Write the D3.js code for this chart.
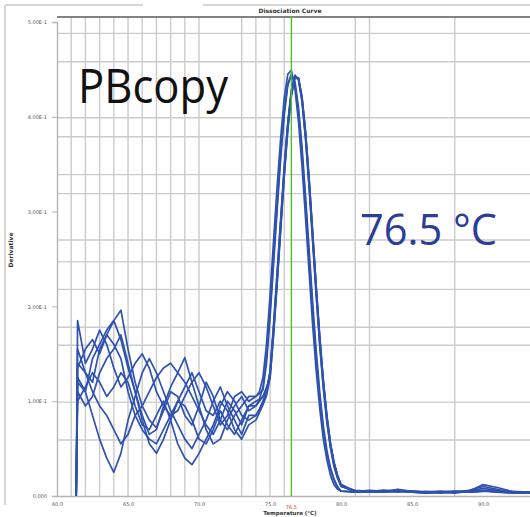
<!DOCTYPE html>
<html><head><meta charset="utf-8">
<script src="https://cdn.jsdelivr.net/npm/d3@7"></script>
<style>html,body{margin:0;padding:0;background:#fff;}svg{display:block;}</style>
</head><body>
<svg id="chart" width="530" height="517"></svg>
<script>
// ---------- data ----------
const title = "Dissociation Curve";
const xTitle = "Temperature (°C)";
const yTitle = "Derivative";
const xTickValues = [60, 65, 70, 75, 80, 85, 90];
const xTickLabels = ["60.0", "65.0", "70.0", "75.0", "80.0", "85.0", "90.0"];
const yTickValues = [0, 1, 2, 3, 4, 5];
const yTickLabels = ["0.000", "1.00E-1", "2.00E-1", "3.00E-1", "4.00E-1", "5.00E-1"];
const xGridValues = [61, 62, 63, 64, 65, 66, 67, 68, 69, 70, 73, 74, 75, 76, 81, 82, 88];
const yGridValues = [0.59, 0.99, 1.59, 1.78, 2.18, 2.47, 2.70, 3.19, 3.39, 3.79, 3.99, 4.58, 4.88];
const markerTemp = 76.5;
const annotationSample = "PBcopy";
const annotationTm = "76.5 °C";

const temps = [61.35, 61.45, 62, 62.5, 63, 63.5, 64, 64.5, 65, 65.5, 66, 66.5, 67, 67.5, 68, 68.5,
  69, 69.5, 70, 70.5, 71, 71.5, 72, 72.5, 73, 73.5,
  74, 74.25, 74.5, 74.75, 75, 75.25, 75.5, 75.75, 76, 76.25, 76.5, 76.75, 77, 77.25, 77.5, 77.75,
  78, 78.25, 78.5, 78.75, 79, 79.25, 79.5, 79.75, 80,
  81, 82, 83, 84, 85, 86, 87, 88, 89, 90, 91, 92, 93.3];

const well1 = [0, 1.25, 1.10, 1.45, 1.60, 1.75, 1.85, 1.96, 1.55, 1.20, 0.95, 0.80, 0.72, 0.90, 1.10, 1.05, 0.85, 0.75, 0.95, 1.20, 1.05, 0.80, 0.70, 0.85, 0.95, 1.05,
  1.05, 1.10, 1.25, 1.60, 2.12, 2.70, 3.27, 3.78, 4.20, 4.45, 4.49, 4.30, 3.95, 3.48, 2.93, 2.36, 1.80, 1.32, 0.92, 0.60, 0.38, 0.22, 0.12, 0.07, 0.05,
  0.04, 0.05, 0.04, 0.06, 0.04, 0.03, 0.04, 0.05, 0.04, 0.05, 0.04, 0.03, 0.03];
const well2 = [0, 1.55, 1.30, 1.20, 1.55, 1.70, 1.85, 1.65, 1.35, 1.10, 0.85, 0.65, 0.70, 0.95, 1.15, 1.30, 1.20, 1.05, 0.90, 0.75, 0.65, 0.80, 1.00, 0.90, 0.75, 0.95,
  0.95, 1.02, 1.15, 1.46, 1.96, 2.52, 3.09, 3.62, 4.06, 4.35, 4.45, 4.35, 4.06, 3.62, 3.09, 2.52, 1.96, 1.46, 1.03, 0.70, 0.45, 0.28, 0.17, 0.09, 0.05,
  0.05, 0.04, 0.05, 0.04, 0.05, 0.04, 0.03, 0.04, 0.06, 0.10, 0.07, 0.04, 0.03];
const well3 = [0, 1.85, 1.40, 1.55, 1.75, 1.60, 1.35, 1.15, 1.25, 1.40, 1.50, 1.35, 1.10, 0.95, 0.85, 0.90, 1.05, 1.20, 1.30, 1.15, 0.95, 0.75, 0.85, 1.05, 1.10, 1.00,
  1.05, 1.08, 1.12, 1.40, 1.88, 2.45, 3.02, 3.56, 4.02, 4.33, 4.44, 4.37, 4.10, 3.68, 3.16, 2.60, 2.04, 1.53, 1.09, 0.74, 0.48, 0.30, 0.18, 0.10, 0.05,
  0.04, 0.04, 0.05, 0.05, 0.04, 0.03, 0.04, 0.03, 0.05, 0.12, 0.09, 0.05, 0.04];
const well4 = [0, 1.20, 1.10, 0.85, 0.60, 0.40, 0.25, 0.45, 0.80, 1.05, 1.30, 1.45, 1.30, 1.10, 0.90, 0.75, 0.60, 0.50, 0.65, 0.80, 1.00, 1.15, 0.95, 0.80, 0.65, 0.85,
  0.85, 0.92, 1.00, 1.12, 1.30, 1.78, 2.33, 2.90, 3.46, 3.93, 4.27, 4.43, 4.40, 4.17, 3.78, 3.27, 2.70, 2.13, 1.60, 1.15, 0.79, 0.52, 0.32, 0.19, 0.10,
  0.06, 0.05, 0.06, 0.05, 0.05, 0.04, 0.05, 0.04, 0.04, 0.05, 0.05, 0.04, 0.03];
const well5 = [0, 1.40, 1.30, 1.10, 0.95, 0.85, 0.70, 0.55, 0.65, 0.85, 0.95, 1.10, 1.25, 1.35, 1.40, 1.30, 1.46, 1.20, 0.95, 0.70, 0.55, 0.60, 0.80, 0.95, 1.05, 0.90,
  0.95, 1.00, 1.05, 1.15, 1.25, 1.70, 2.24, 2.81, 3.37, 3.86, 4.22, 4.41, 4.41, 4.21, 3.84, 3.35, 2.78, 2.21, 1.68, 1.22, 0.85, 0.56, 0.36, 0.22, 0.12,
  0.05, 0.06, 0.05, 0.07, 0.05, 0.04, 0.04, 0.05, 0.05, 0.06, 0.04, 0.05, 0.03];
const well6 = [0, 1.00, 1.15, 1.30, 1.20, 1.05, 1.15, 1.30, 1.20, 0.95, 0.75, 0.70, 0.85, 1.00, 0.80, 0.55, 0.40, 0.33, 0.45, 0.60, 0.75, 0.95, 1.10, 1.00, 0.85, 0.80,
  0.85, 0.90, 0.98, 1.08, 1.32, 1.82, 2.37, 2.93, 3.48, 3.94, 4.28, 4.44, 4.39, 4.16, 3.76, 3.25, 2.68, 2.11, 1.58, 1.14, 0.78, 0.51, 0.31, 0.19, 0.10,
  0.05, 0.05, 0.04, 0.05, 0.04, 0.05, 0.04, 0.04, 0.05, 0.08, 0.06, 0.04, 0.04];
const well7 = [0, 1.35, 1.55, 1.65, 1.50, 1.70, 1.60, 1.45, 1.10, 0.85, 0.70, 0.60, 0.55, 0.70, 0.85, 1.00, 1.15, 1.30, 1.10, 0.90, 0.85, 1.00, 0.90, 0.70, 0.60, 0.75,
  0.80, 0.88, 0.96, 1.06, 1.24, 1.72, 2.26, 2.83, 3.39, 3.88, 4.23, 4.41, 4.40, 4.20, 3.83, 3.34, 2.77, 2.20, 1.67, 1.21, 0.84, 0.55, 0.35, 0.21, 0.11,
  0.04, 0.05, 0.06, 0.05, 0.05, 0.04, 0.05, 0.04, 0.04, 0.05, 0.05, 0.04, 0.03];
const well8 = [0, 1.10, 0.95, 1.05, 1.30, 1.45, 1.55, 1.70, 1.40, 1.10, 0.80, 0.55, 0.45, 0.60, 0.80, 1.00, 0.95, 0.80, 0.60, 0.55, 0.70, 0.90, 0.75, 0.65, 0.80, 0.95,
  1.00, 1.02, 1.05, 1.12, 1.30, 1.76, 2.30, 2.87, 3.43, 3.91, 4.26, 4.42, 4.41, 4.20, 3.82, 3.32, 2.75, 2.18, 1.65, 1.20, 0.83, 0.55, 0.35, 0.21, 0.12,
  0.05, 0.04, 0.05, 0.06, 0.05, 0.04, 0.04, 0.05, 0.04, 0.06, 0.05, 0.04, 0.04];
const wells = [well1, well2, well3, well4, well5, well6, well7, well8];

// ---------- drawing ----------
const svg = d3.select("#chart");
const pL = 57, pR = 530, pT = 17, pB = 496;
const x = d3.scaleLinear().domain([60, 93.3]).range([pL, pR]);
const y = d3.scaleLinear().domain([0, 5]).range([pB, 22]);

// outer frame
const frame = svg.append("g").attr("stroke", "#d6d6d6").attr("stroke-width", 2).attr("fill", "none");
frame.append("line").attr("x1", 5).attr("x2", 5).attr("y1", 5).attr("y2", 505);
frame.append("line").attr("x1", 5).attr("x2", 143).attr("y1", 5).attr("y2", 5);
frame.append("line").attr("x1", 203).attr("x2", 530).attr("y1", 5).attr("y2", 5);

// grid
const grid = svg.append("g").attr("stroke", "#cbcbcb").attr("stroke-width", 1.4);
grid.selectAll(".vg").data(xGridValues).join("line").attr("class", "vg")
  .attr("x1", d => x(d)).attr("x2", d => x(d)).attr("y1", pT).attr("y2", pB);
grid.selectAll(".hg").data(yGridValues).join("line").attr("class", "hg")
  .attr("x1", pL).attr("x2", pR).attr("y1", d => y(d)).attr("y2", d => y(d));

// axes
const yAxis = d3.axisLeft(y).tickValues(yTickValues).tickSize(5).tickFormat((d, i) => yTickLabels[i]);
const gy = svg.append("g").attr("transform", `translate(${pL},0)`).call(yAxis);
gy.select(".domain").attr("stroke", "#b5b5b5").attr("stroke-width", 1.4);
gy.selectAll(".tick line").attr("stroke", "#b5b5b5");
gy.selectAll(".tick text").attr("font-family", "DejaVu Sans").attr("font-size", 5).attr("fill", "#555").attr("dx", -2);

const xAxis = d3.axisBottom(x).tickValues(xTickValues).tickSize(0).tickFormat((d, i) => xTickLabels[i]);
const gx = svg.append("g").attr("transform", `translate(0,${pB})`).call(xAxis);
gx.select(".domain").attr("stroke", "#b5b5b5").attr("stroke-width", 1.4);
gx.selectAll(".tick text").attr("font-family", "DejaVu Sans").attr("font-size", 5).attr("fill", "#555").attr("dy", 7);

// top border
svg.append("line").attr("x1", pL).attr("x2", pR).attr("y1", pT).attr("y2", pT)
  .attr("stroke", "#5a5a5a").attr("stroke-width", 1.5);

// titles
svg.append("text").attr("x", 290).attr("y", 13).attr("text-anchor", "middle")
  .attr("font-family", "DejaVu Sans").attr("font-weight", "bold").attr("font-size", 6).attr("fill", "#333").text(title);
svg.append("text").attr("x", 290).attr("y", 515).attr("text-anchor", "middle")
  .attr("font-family", "DejaVu Sans").attr("font-weight", "bold").attr("font-size", 5.5).attr("fill", "#333").text(xTitle);
svg.append("text").attr("transform", "translate(13,250) rotate(-90)").attr("text-anchor", "middle")
  .attr("font-family", "DejaVu Sans").attr("font-weight", "bold").attr("font-size", 6).attr("fill", "#333").text(yTitle);
svg.append("text").attr("x", x(markerTemp)).attr("y", 509).attr("text-anchor", "middle")
  .attr("font-family", "DejaVu Sans").attr("font-size", 5).attr("fill", "#e03030").text(markerTemp.toFixed(1));

// curves
svg.append("clipPath").attr("id", "plotclip").append("rect")
  .attr("x", pL).attr("y", pT).attr("width", pR - pL).attr("height", pB - pT + 1);
const line = d3.line().x((d, i) => x(temps[i])).y(d => y(d));
svg.append("g").attr("clip-path", "url(#plotclip)")
  .selectAll("path").data(wells).join("path")
  .attr("d", line).attr("fill", "none").attr("stroke", "#2f52b0").attr("stroke-width", 1.7)
  .attr("stroke-linejoin", "round");

// Tm marker
svg.append("line").attr("x1", x(markerTemp)).attr("x2", x(markerTemp)).attr("y1", pT).attr("y2", pB)
  .attr("stroke", "#4cc22a").attr("stroke-width", 1.4);

// annotations
svg.append("text").attr("x", 78).attr("y", 103).attr("font-family", "Open Sans").attr("font-size", 48)
  .attr("fill", "#111").attr("textLength", 150).attr("lengthAdjust", "spacingAndGlyphs").text(annotationSample);
svg.append("text").attr("x", 360).attr("y", 245).attr("font-family", "Open Sans").attr("font-size", 44)
  .attr("fill", "#2b3d96").attr("textLength", 137).attr("lengthAdjust", "spacingAndGlyphs").text(annotationTm);
</script>
</body></html>
